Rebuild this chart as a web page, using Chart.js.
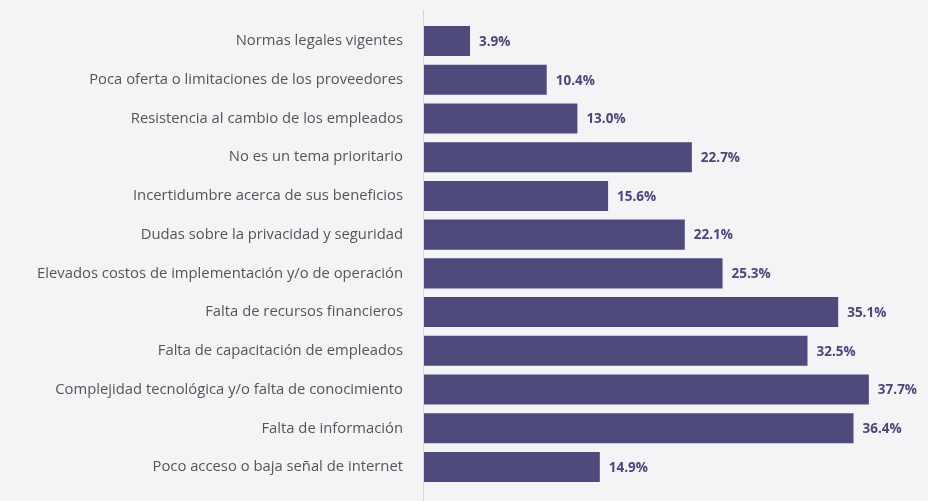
<!DOCTYPE html>
<html>
<head>
<meta charset="utf-8">
<script src="https://cdn.jsdelivr.net/npm/chart.js@4.4.0/dist/chart.umd.min.js"></script>
<style>
  html, body { margin: 0; padding: 0; background: #f4f4f7; }
  #wrap { position: relative; width: 928px; height: 501px; }
</style>
</head>
<body>
<div id="wrap"><canvas id="chart"></canvas></div>
<script>
// Datos del gráfico
const categories = [
  "Normas legales vigentes",
  "Poca oferta o limitaciones de los proveedores",
  "Resistencia al cambio de los empleados",
  "No es un tema prioritario",
  "Incertidumbre acerca de sus beneficios",
  "Dudas sobre la privacidad y seguridad",
  "Elevados costos de implementación y/o de operación",
  "Falta de recursos financieros",
  "Falta de capacitación de empleados",
  "Complejidad tecnológica y/o falta de conocimiento",
  "Falta de información",
  "Poco acceso o baja señal de internet"
];
const values = [3.9, 10.4, 13.0, 22.7, 15.6, 22.1, 25.3, 35.1, 32.5, 37.7, 36.4, 14.9];

const BAR_COLOR = "#4e4a7c";
const AXIS_X = 424;

// Etiquetas de valor al final de cada barra + línea del eje
const valueLabels = {
  id: "valueLabels",
  afterDatasetsDraw(chart) {
    const ctx = chart.ctx;
    const meta = chart.getDatasetMeta(0);
    ctx.save();
    ctx.font = "bold 13.5px 'Open Sans'";
    ctx.fillStyle = "#4a4778";
    ctx.textBaseline = "middle";
    ctx.textAlign = "left";
    meta.data.forEach((bar, i) => {
      ctx.fillText(values[i].toFixed(1) + "%", bar.x + 9, bar.y + 1);
    });
    // línea vertical del eje
    ctx.strokeStyle = "#d6d6dc";
    ctx.lineWidth = 1;
    ctx.beginPath();
    ctx.moveTo(chart.chartArea.left - 0.5, 10);
    ctx.lineTo(chart.chartArea.left - 0.5, 501);
    ctx.stroke();
    ctx.restore();
  }
};

new Chart(document.getElementById("chart"), {
  type: "bar",
  data: {
    labels: categories,
    datasets: [{
      data: values,
      backgroundColor: BAR_COLOR,
      barPercentage: 0.775,
      categoryPercentage: 1.0
    }]
  },
  options: {
    indexAxis: "y",
    responsive: true,
    maintainAspectRatio: false,
    animation: false,
    layout: { padding: { top: 21.6, bottom: 14.6, left: 0, right: 32 } },
    plugins: {
      legend: { display: false },
      tooltip: { enabled: false }
    },
    scales: {
      x: {
        min: 0,
        max: 40,
        display: false
      },
      y: {
        afterFit(scale) {
          scale.width = AXIS_X;
          scale.paddingTop = 0;
          scale.paddingBottom = 0;
        },
        grid: { display: false },
        border: { display: false },
        ticks: {
          color: "#555558",
          padding: 13,
          font: { family: "'Open Sans'", size: 14.8 }
        }
      }
    }
  },
  plugins: [valueLabels]
});
</script>
</body>
</html>
